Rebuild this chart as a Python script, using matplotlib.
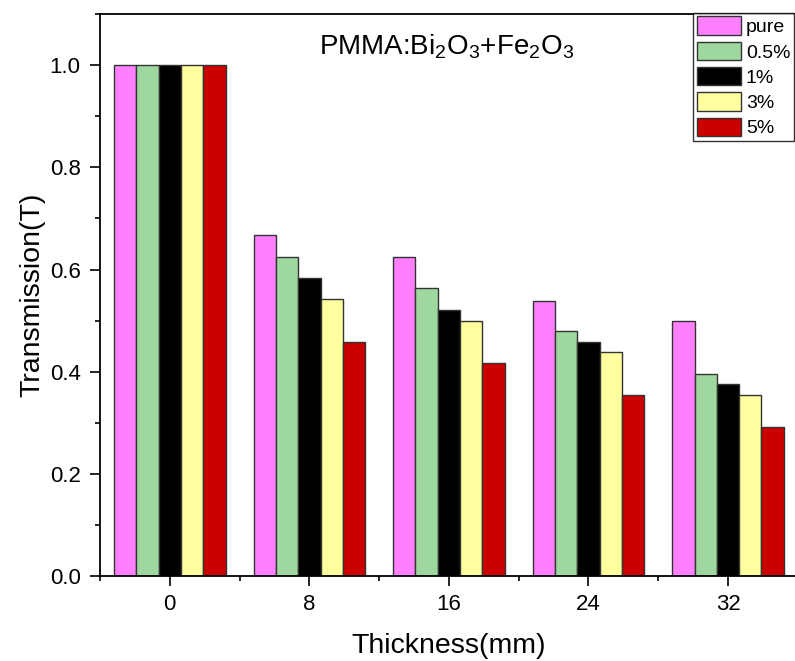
import matplotlib
matplotlib.use("Agg")
import matplotlib.pyplot as plt
import numpy as np
from matplotlib.ticker import MultipleLocator, FormatStrFormatter

plt.rcParams['font.family'] = ['Liberation Sans', 'DejaVu Sans']
plt.rcParams['mathtext.fontset'] = 'custom'
plt.rcParams['mathtext.rm'] = 'Liberation Sans'

# data
thickness = [0, 8, 16, 24, 32]
series = ['pure', '0.5%', '1%', '3%', '5%']
pure = [1.0, 0.667, 0.625, 0.538, 0.500]
half = [1.0, 0.625, 0.563, 0.479, 0.396]
one = [1.0, 0.583, 0.521, 0.458, 0.375]
three = [1.0, 0.542, 0.500, 0.438, 0.354]
five = [1.0, 0.458, 0.417, 0.354, 0.292]
colors = ['#FF80FF', '#9FD89F', '#000000', '#FFFF9F', '#CC0000']

values = [pure, half, one, three, five]

fig = plt.figure(figsize=(7.95, 6.61), dpi=100)
ax = fig.add_axes([0.1258, 0.1286, 0.8777, 0.850])

bar_w = 1.28
x = np.array(thickness, dtype=float)
for i, (name, vals, c) in enumerate(zip(series, values, colors)):
    offset = (i - 2) * bar_w
    ax.bar(x + offset, vals, width=bar_w, color=c, edgecolor='#333333',
           linewidth=1.0, label=name)

ax.set_xlim(-4, 36)
ax.set_ylim(0, 1.1)
ax.set_xticks(thickness)
ax.set_xticklabels([str(t) for t in thickness])
ax.xaxis.set_minor_locator(MultipleLocator(4))
ax.yaxis.set_major_locator(MultipleLocator(0.2))
ax.yaxis.set_minor_locator(MultipleLocator(0.1))
ax.yaxis.set_major_formatter(FormatStrFormatter('%.1f'))

ax.tick_params(which='major', direction='out', length=7, width=1.2, labelsize=16)
ax.tick_params(which='minor', direction='out', length=3.6, width=1.2)
ax.tick_params(axis='x', pad=6)
ax.tick_params(axis='y', pad=7)
for s in ax.spines.values():
    s.set_linewidth(1.3)
ax.spines['right'].set_visible(False)

ax.set_xlabel('Thickness(mm)', fontsize=20.5, labelpad=13)
ax.set_ylabel('Transmission(T)', fontsize=20.5, labelpad=3)

ax.text(0.497, 0.943, r'PMMA:Bi$_\mathregular{2}$O$_\mathregular{3}$+Fe$_\mathregular{2}$O$_\mathregular{3}$',
        transform=ax.transAxes, ha='center', va='center', fontsize=20)

leg = fig.legend(loc='upper right', bbox_to_anchor=(0.999, 0.981), fontsize=14,
                 frameon=True, fancybox=False, edgecolor='black',
                 handlelength=2.27, handleheight=1.08, labelspacing=0.28,
                 handletextpad=0.25, borderpad=0.2, borderaxespad=0)
leg.get_frame().set_linewidth(1.0)

fig.savefig('out.png', dpi=100)
